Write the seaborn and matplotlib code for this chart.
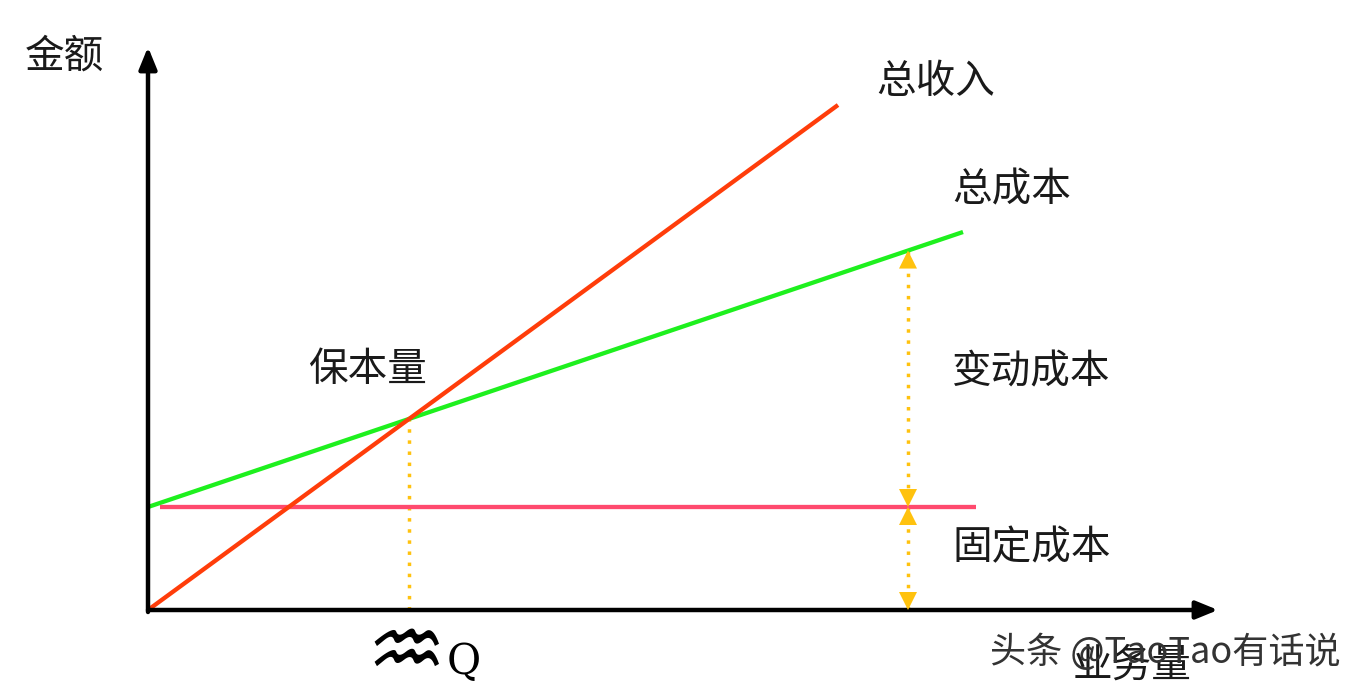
import matplotlib
matplotlib.use("Agg")
import matplotlib.pyplot as plt
import seaborn as sns
import pandas as pd
import numpy as np

# ---- data (units: chart units, origin at axes crossing) ----
revenue_x = [0, 690]
revenue_y = [0, 505]
cost_x = [0, 815]
cost_y = [103, 378]
fixed_x = [12, 828]
fixed_y = [103, 103]
measure_q = 760          # position of the double-arrow measurement

labels = {
    "y_axis": "金额",
    "x_axis": "业务量",
    "revenue": "总收入",
    "cost": "总成本",
    "breakeven": "保本量",
    "variable": "变动成本",
    "fixed": "固定成本",
    "q": "Q",
    "watermark": "头条 @TaoTao有话说",
}

sns.set_theme(style="white")
plt.rcParams['font.family'] = ['Noto Sans CJK SC', 'DejaVu Sans']

W, H = 1366, 689
ox, oy = 148, 610
fig = plt.figure(figsize=(W / 100, H / 100), dpi=100)
ax = fig.add_axes([0, 0, 1, 1])
ax.set_xlim(-ox, W - ox)
ax.set_ylim(-(H - oy), oy)
ax.axis("off")

df = pd.concat([
    pd.DataFrame({"x": revenue_x, "y": revenue_y, "s": "revenue"}),
    pd.DataFrame({"x": cost_x, "y": cost_y, "s": "cost"}),
    pd.DataFrame({"x": fixed_x, "y": fixed_y, "s": "fixed"}),
])
palette = {"revenue": "#FF3D0A", "cost": "#1EF01E", "fixed": "#FF4A6E"}
sns.lineplot(data=df, x="x", y="y", hue="s", palette=palette, linewidth=3.1,
             legend=False, ax=ax, estimator=None, sort=False,
             solid_capstyle="butt")
for ln in ax.lines:
    ln.set_zorder(3)
ax.lines[0].set_zorder(4)

# axes arrows
ax.annotate("", xy=(1218 - ox, 0), xytext=(0, 0),
            arrowprops=dict(arrowstyle="-|>,head_length=1.1,head_width=0.45",
                            lw=3.2, color="black", shrinkA=0, shrinkB=0), zorder=5)
ax.annotate("", xy=(0, oy - 47), xytext=(0, -2),
            arrowprops=dict(arrowstyle="-|>,head_length=1.1,head_width=0.45",
                            lw=3.2, color="black", shrinkA=0, shrinkB=0), zorder=5)

# break-even point
r_slope = (revenue_y[1] - revenue_y[0]) / (revenue_x[1] - revenue_x[0])
c_slope = (cost_y[1] - cost_y[0]) / (cost_x[1] - cost_x[0])
q_be = (cost_y[0] - revenue_y[0]) / (r_slope - c_slope)
y_be = r_slope * q_be
yellow = "#FFC20E"
ax.plot([q_be, q_be], [0, y_be], color=yellow, lw=2.5, ls=(0, (1, 2.2)), zorder=2)

# double arrows at measure_q
y_top = cost_y[0] + c_slope * measure_q
y_fix = fixed_y[0]
ax.plot([measure_q, measure_q], [0, y_top], color=yellow, lw=2.5, ls=(0, (1, 2.2)), zorder=2)
hw = 9
hl = 18
for tip, direction in [(y_top, 1), (y_fix, -1), (y_fix, 1), (0, -1)]:
    base = tip - direction * hl
    ax.fill([measure_q - hw, measure_q + hw, measure_q], [base, base, tip],
            color=yellow, zorder=6, lw=0)

fs = 28.5
def put(px, py, s, **kw):
    ax.text(px - ox, oy - py, s, fontsize=kw.pop("fontsize", fs), va="center",
            ha=kw.pop("ha", "left"), color=kw.pop("color", "#1a1a1a"), **kw)

put(25, 57, labels["y_axis"])
put(876, 82, labels["revenue"])
put(952, 190, labels["cost"])
put(308, 370, labels["breakeven"])
put(952, 372, labels["variable"])
put(952, 548, labels["fixed"])
put(1073, 666, labels["x_axis"])
ax.text(406 - ox, oy - 655, "♒", fontsize=64, va="center", ha="center",
        family="DejaVu Sans", color="black", fontweight="bold")
ax.text(447 - ox, oy - 662, labels["q"], fontsize=30, va="center", ha="left",
        family="DejaVu Serif", color="black")
put(990, 652, labels["watermark"], fontsize=26, color="#333333")

fig.savefig("out.png", dpi=100)
